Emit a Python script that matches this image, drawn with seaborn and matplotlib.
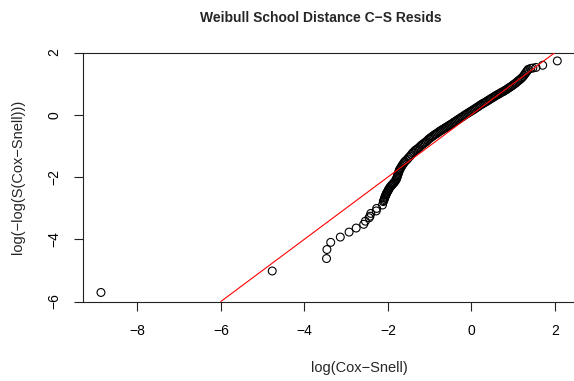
import matplotlib
matplotlib.use("Agg")
import matplotlib.pyplot as plt
import seaborn as sns
import pandas as pd

# Log of Cox-Snell residuals and log(-log) of their Kaplan-Meier survival
log_cs = [
    -8.87, -4.77, -3.47, -3.46, -3.37, -3.14, -2.93, -2.76, -2.58, -2.54,
    -2.45, -2.43, -2.41, -2.28, -2.27, -2.13, -2.11,
    -2.10, -2.09, -2.08, -2.07, -2.06, -2.05, -2.04, -2.03, -2.02, -2.00,
    -1.99, -1.98, -1.96, -1.94, -1.92, -1.90, -1.88, -1.86, -1.84, -1.82,
    -1.80, -1.79, -1.78, -1.77, -1.76, -1.75, -1.74, -1.73, -1.72, -1.71,
    -1.69, -1.67, -1.65, -1.63, -1.61, -1.59, -1.56, -1.53, -1.50, -1.47,
    -1.44, -1.41, -1.38, -1.35, -1.32, -1.29, -1.26, -1.23, -1.20, -1.17,
    -1.14, -1.11, -1.08, -1.05, -1.02, -0.99, -0.96, -0.93, -0.90, -0.87,
    -0.84, -0.81, -0.78, -0.75, -0.72, -0.69, -0.66, -0.63, -0.60, -0.57,
    -0.54, -0.51, -0.48, -0.45, -0.42, -0.39, -0.36, -0.33, -0.30, -0.27,
    -0.24, -0.21, -0.18, -0.15, -0.12, -0.09, -0.06, -0.03, 0.00, 0.03,
    0.06, 0.09, 0.12, 0.15, 0.18, 0.21, 0.24, 0.27, 0.30, 0.33,
    0.36, 0.39, 0.42, 0.45, 0.48, 0.51, 0.54, 0.57, 0.60, 0.63,
    0.66, 0.69, 0.72, 0.75, 0.78, 0.81, 0.84, 0.87, 0.90, 0.93,
    0.96, 0.99, 1.02, 1.05, 1.08, 1.11, 1.14, 1.17, 1.20, 1.23,
    1.26, 1.28, 1.30, 1.32, 1.34, 1.36, 1.42, 1.47, 1.545, 1.705, 2.055,
]
log_neg_log_s = [
    -5.71, -5.02, -4.62, -4.33, -4.10, -3.93, -3.77, -3.64, -3.52, -3.42,
    -3.31, -3.26, -3.17, -3.09, -3.01, -2.90, -2.79,
    -2.76, -2.72, -2.68, -2.64, -2.61, -2.58, -2.55, -2.52, -2.49, -2.45,
    -2.42, -2.39, -2.35, -2.31, -2.28, -2.25, -2.22, -2.19, -2.16, -2.12,
    -2.08, -2.04, -2.00, -1.96, -1.92, -1.88, -1.84, -1.80, -1.77, -1.74,
    -1.70, -1.65, -1.61, -1.57, -1.53, -1.50, -1.46, -1.42, -1.37, -1.33,
    -1.28, -1.23, -1.19, -1.15, -1.12, -1.09, -1.06, -1.02, -0.98, -0.95,
    -0.92, -0.89, -0.86, -0.82, -0.78, -0.75, -0.72, -0.69, -0.66, -0.63,
    -0.61, -0.58, -0.55, -0.52, -0.50, -0.47, -0.45, -0.42, -0.40, -0.37,
    -0.35, -0.32, -0.30, -0.27, -0.24, -0.22, -0.19, -0.16, -0.14, -0.11,
    -0.08, -0.06, -0.03, 0.00, 0.02, 0.05, 0.07, 0.10, 0.12, 0.15,
    0.17, 0.20, 0.23, 0.25, 0.28, 0.31, 0.33, 0.36, 0.38, 0.40,
    0.43, 0.45, 0.48, 0.50, 0.53, 0.55, 0.58, 0.60, 0.63, 0.65,
    0.67, 0.70, 0.72, 0.74, 0.76, 0.79, 0.81, 0.84, 0.87, 0.89,
    0.92, 0.95, 0.98, 1.01, 1.04, 1.08, 1.11, 1.14, 1.18, 1.22,
    1.27, 1.31, 1.35, 1.38, 1.42, 1.46, 1.49, 1.50, 1.52, 1.59, 1.73,
]

# Reference line y = intercept + slope * x
ref_intercept = 0.0
ref_slope = 1.0

x_ticks = [-8, -6, -4, -2, 0, 2]
y_ticks = [-6, -4, -2, 0, 2]

title = "Weibull School Distance C\u2212S Resids"
x_label = "log(Cox\u2212Snell)"
y_label = "log(\u2212log(S(Cox\u2212Snell)))"

df = pd.DataFrame({"lcs": log_cs, "lls": log_neg_log_s})

sns.set_style("white")
plt.rcParams["font.family"] = ["Liberation Sans", "DejaVu Sans"]

W, H = 574, 381
fig = plt.figure(figsize=(W / 100, H / 100), dpi=100)

# plotting region in pixels
left_px, top_px, bottom_px = 83, 52.5, 301.5
xlim = (-9.30, 2.54)
ylim = (-6.0, 2.0)
px_per_x = 41.77
width_px = (xlim[1] - xlim[0]) * px_per_x
ax = fig.add_axes([left_px / W, 1 - bottom_px / H, width_px / W,
                   (bottom_px - top_px) / H])

sns.scatterplot(data=df, x="lcs", y="lls", ax=ax, marker="o", s=32,
                facecolors="none", edgecolor="black", linewidth=0.8,
                legend=False, zorder=2)
ax.axline((0, ref_intercept), slope=ref_slope, color="red", lw=0.8, zorder=3)

ax.set_xlim(*xlim)
ax.set_ylim(*ylim)
ax.set_xticks(x_ticks)
ax.set_yticks(y_ticks)
ax.set_xticklabels([f"{t}".replace("-", "\u2212") for t in x_ticks])
ax.set_yticklabels([f"{t}".replace("-", "\u2212") for t in y_ticks])

for sp in ax.spines.values():
    sp.set_visible(True)
    sp.set_color("#222222")
    sp.set_linewidth(0.8)

ax.tick_params(axis="both", which="major", direction="out", length=6.5,
               width=0.8, color="#222222", labelsize=10, labelcolor="black",
               bottom=True, left=True)
ax.tick_params(axis="x", pad=10)
ax.tick_params(axis="y", pad=9)
for lbl in ax.get_yticklabels():
    lbl.set_rotation(90)
    lbl.set_va("center")

ax.set_xlabel("")
ax.set_ylabel("")
fig.text(359.5 / W, 1 - 368 / H, x_label, ha="center", va="center",
         fontsize=10.5)
fig.text(18 / W, 1 - 177 / H, y_label, ha="center", va="center",
         rotation=90, fontsize=10.5)
fig.text(321 / W, 1 - 18 / H, title, ha="center", va="center",
         fontsize=10.0, fontweight="bold")

fig.savefig("out.png", dpi=100)
